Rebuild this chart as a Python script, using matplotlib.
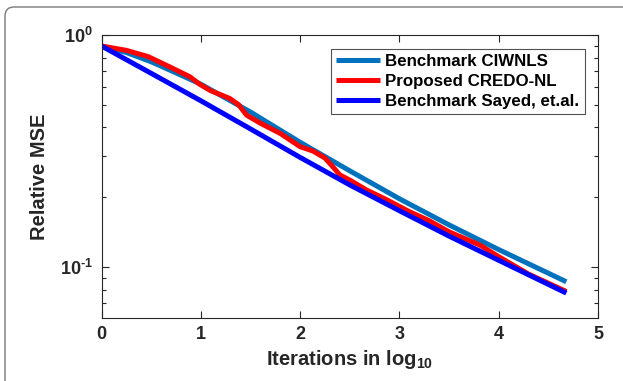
import numpy as np
import matplotlib
matplotlib.use('Agg')
import matplotlib.pyplot as plt
from matplotlib.patches import FancyBboxPatch
from matplotlib.ticker import LogLocator, NullFormatter, FixedLocator

plt.rcParams['font.family'] = ['Liberation Sans', 'DejaVu Sans']
plt.rcParams['font.weight'] = 'bold'
plt.rcParams['mathtext.fontset'] = 'custom'
plt.rcParams['mathtext.rm'] = 'Liberation Sans:bold'
plt.rcParams['mathtext.bf'] = 'Liberation Sans:bold'
plt.rcParams['mathtext.default'] = 'bf'

# datos (eje x = iteraciones en log10)
x_ciwnls = [0, 0.25, 0.5, 0.75, 1.0, 1.5, 2.0, 2.5, 3.0, 3.5, 4.0, 4.68]
y_ciwnls = [0.897, 0.841, 0.767, 0.687, 0.614, 0.466, 0.345, 0.260, 0.197, 0.152, 0.119, 0.0865]

x_credo = [0, 0.25, 0.47, 0.7, 0.89, 0.99, 1.1, 1.29, 1.38, 1.46, 1.6, 1.8, 2.0,
           2.13, 2.25, 2.33, 2.4, 2.5, 2.67, 2.85, 3.1, 3.3, 3.5, 3.81, 4.0,
           4.2, 4.3, 4.68]
log_credo = [-0.047, -0.066, -0.093, -0.140, -0.180, -0.2125, -0.240, -0.273,
             -0.300, -0.345, -0.380, -0.424, -0.481, -0.500, -0.530, -0.568,
             -0.603, -0.625, -0.668, -0.705, -0.761, -0.800, -0.848, -0.905,
             -0.955, -1.005, -1.030, -1.105]
y_credo = [10 ** v for v in log_credo]

x_sayed = [0, 0.5, 1.0, 1.5, 2.0, 2.5, 3.0, 3.5, 4.0, 4.68]
y_sayed = [0.897, 0.684, 0.521, 0.394, 0.297, 0.226, 0.175, 0.136, 0.107, 0.0773]

etiquetas = ['Benchmark CIWNLS', 'Proposed CREDO-NL', 'Benchmark Sayed, et.al.']
colores = ['#0072BD', '#FF0000', '#0000FF']

fig = plt.figure(figsize=(6.23, 3.81), dpi=100)

# marco gris redondeado de la página
marco = FancyBboxPatch((0.05, -1.0), 7.0, 3.74 + 1.0,
                       boxstyle='round,pad=0,rounding_size=0.09',
                       transform=fig.dpi_scale_trans, facecolor='none',
                       edgecolor='#7a7a7a', linewidth=1.0)
fig.patches.append(marco)

ax = fig.add_axes([0.163, 0.165, 0.797, 0.743])

ax.plot(x_ciwnls, y_ciwnls, color=colores[0], lw=3.6, label=etiquetas[0], solid_capstyle='butt')
ax.plot(x_credo, y_credo, color=colores[1], lw=3.6, label=etiquetas[1], solid_capstyle='butt')
ax.plot(x_sayed, y_sayed, color=colores[2], lw=3.6, label=etiquetas[2], solid_capstyle='butt')

ax.set_yscale('log')
ax.set_xlim(0, 5)
ax.set_ylim(0.0603, 1.0)
ax.set_xticks([0, 1, 2, 3, 4, 5])
ax.set_xticklabels(['0', '1', '2', '3', '4', '5'])
ax.yaxis.set_major_locator(FixedLocator([0.1, 1.0]))
ax.set_yticklabels([r'$10^{\text{-}1}$', r'$10^{0}$'])
ax.yaxis.set_minor_locator(LogLocator(base=10, subs=np.arange(2, 10)))
ax.yaxis.set_minor_formatter(NullFormatter())

gris = '#262626'
for s in ax.spines.values():
    s.set_color(gris)
    s.set_linewidth(0.8)
ax.tick_params(which='both', direction='in', top=True, right=True, colors=gris,
               labelsize=13, width=0.8)
ax.tick_params(which='major', length=5, pad=6)
ax.tick_params(which='minor', length=3)

ax.set_xlabel(r'Iterations in log$_{10}$', fontsize=14.5, fontweight='bold', color=gris, labelpad=3)
ax.set_ylabel('Relative MSE', fontsize=14.5, fontweight='bold', color=gris, labelpad=8)

leg = ax.legend(loc='upper right', bbox_to_anchor=(0.973, 0.951), fontsize=12.2,
                frameon=True, fancybox=False, handlelength=2.6, handletextpad=0.3,
                borderpad=0.3, labelspacing=0.3, borderaxespad=0)
leg.get_frame().set_edgecolor(gris)
leg.get_frame().set_linewidth(0.8)
for t in leg.get_texts():
    t.set_fontweight('bold')

fig.savefig('out.png', dpi=100)
